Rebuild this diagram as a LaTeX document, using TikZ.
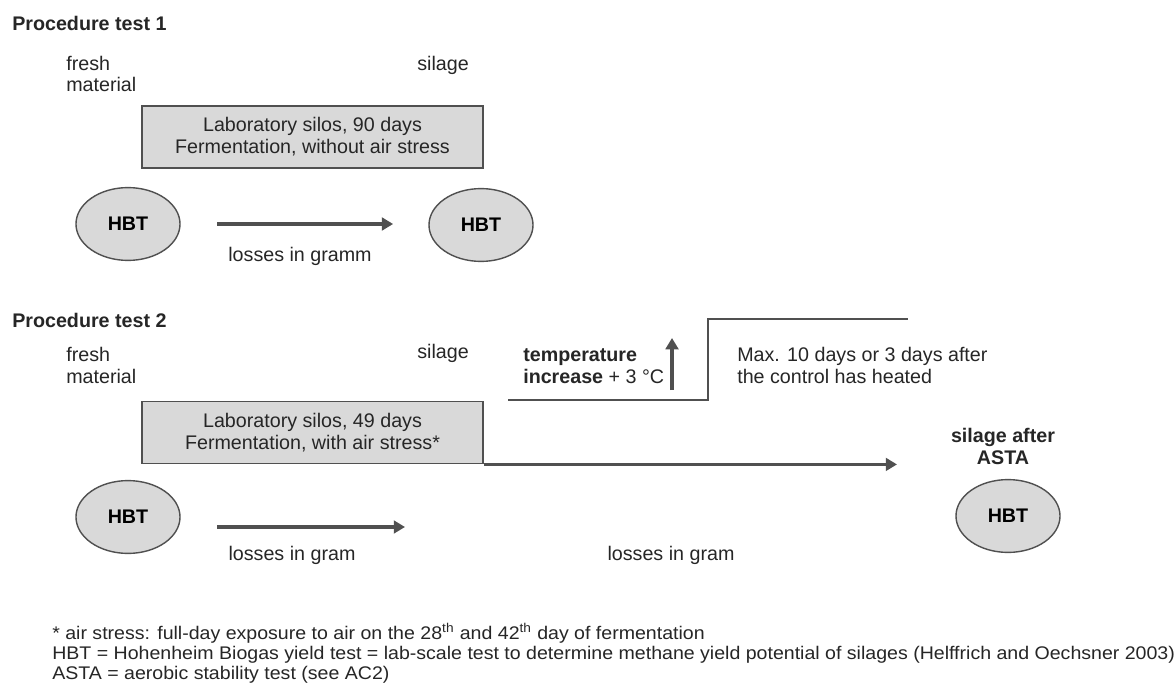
\documentclass[tikz,border=0pt]{standalone}
\usepackage{fontspec}
\setmainfont{Liberation Sans}
\usetikzlibrary{shapes.geometric,arrows.meta}
\definecolor{boxfill}{HTML}{D9D9D9}
\definecolor{boxline}{HTML}{505050}
\definecolor{txt}{HTML}{262626}
\newcommand\bodyfont{\fontsize{14}{15.6}\selectfont}
\newcommand\notefont{\fontsize{13}{14}\selectfont}
\tikzset{
	labbox/.style={draw=boxline,fill=boxfill,line width=1.3pt,minimum width=8.525cm,minimum height=1.55cm,inner sep=0pt},
	hbt/.style={ellipse,draw=boxline,fill=boxfill,line width=1pt,minimum width=2.6cm,minimum height=1.82cm,inner sep=0pt,font=\bodyfont\bfseries},
	flow/.style={draw=boxline,line width=2.6pt,-{Triangle[length=8pt,width=9pt]}},
	lbl/.style={text=txt,inner sep=0pt,align=left},
	note/.style={text=txt,inner sep=0pt,anchor=base west,font=\notefont},
}
\begin{document}
\begin{tikzpicture}[x=0.025cm,y=-0.025cm,font=\bodyfont]
	\def\xL{66};
	\def\xS{417};
	\def\yB{292};
	\useasboundingbox[fill=white] (0,0) rectangle (1176,695);
	% procedure test 1
	\node[lbl,anchor=base west,font=\bodyfont\bfseries] (titleA) at (12,31) {Procedure test 1};
	\node[lbl,anchor=base west] (freshA) at (\xL,92) {fresh\\material};
	\node[lbl,anchor=base west] (silageA) at (\xS,71) {silage};
	\node[labbox] (boxA) at (312.5,137) {};
	\node[lbl,align=center] at (boxA) {Laboratory silos, 90 days\\Fermentation, without air stress};
	\node[hbt] (hbtA) at (128,224) {HBT};
	\node[hbt] (hbtB) at (481,225) {HBT};
	\draw[flow,shorten <=26pt,shorten >=25pt] (hbtA.east) -- (hbtA.east -| hbtB.west);
	\node[lbl,anchor=base] (lossA) at (300,262) {losses in gramm};
	% procedure test 2
	\node[lbl,anchor=base west,font=\bodyfont\bfseries] (titleB) at (12,327) {Procedure test 2};
	\node[lbl,anchor=base west] (freshB) at (\xL,383) {fresh\\material};
	\node[lbl,anchor=base west] (silageB) at (\xS,358) {silage};
	\node[labbox] (boxB) at (312.5,432.5) {};
	\node[lbl,align=center] at (boxB) {Laboratory silos, 49 days\\Fermentation, with air stress*};
	\node[hbt] (hbtC) at (128,{\yB+225}) {HBT};
	\coordinate (endC) at (405,{\yB+235});
	\draw[flow,shorten <=26pt] (hbtC.east |- endC) -- (endC);
	\node[lbl,anchor=base] (lossB) at (292,560) {losses in gram};
	% temperature step
	\coordinate (stepA) at (508,400);
	\coordinate (stepB) at (708,400);
	\coordinate (stepC) at (708,319);
	\coordinate (stepD) at (908,319);
	\draw[boxline,line width=2.1pt] (stepA) -- (stepB) -- (stepC) -- (stepD);
	\coordinate (upA) at (672,390);
	\coordinate (upB) at (672,338);
	\draw[flow] (upA) -- (upB);
	\node[lbl,anchor=base west] (tempB) at (523,383) {\textbf{temperature}\\\textbf{increase} + 3 °C};
	\node[lbl,anchor=base west] (maxB) at (737,383) {Max. 10 days or 3 days after\\the control has heated};
	% ASTA
	\coordinate (endD) at (897,460);
	\draw[flow] (boxB.south east) -- (boxB.south east -| endD);
	\node[lbl,align=center,anchor=base,font=\bodyfont\bfseries] (astaB) at (1003,464) {silage after\\ASTA};
	\node[hbt] (hbtD) at (1008,516) {HBT};
	\node[lbl,anchor=base] (lossC) at (671,560) {losses in gram};
	% notes
	\node[note] (noteA) at (52,639) {\scalebox{1.07}[1]{* air stress: full-day exposure to air on the 28\textsuperscript{th} and 42\textsuperscript{th} day of fermentation}};
	\node[note] (noteB) at (52,659) {\scalebox{1.07}[1]{HBT = Hohenheim Biogas yield test = lab-scale test to determine methane yield potential of silages (Helffrich and Oechsner 2003)}};
	\node[note] (noteC) at (52,679) {\scalebox{1.07}[1]{ASTA = aerobic stability test (see AC2)}};
\end{tikzpicture}
\end{document}
